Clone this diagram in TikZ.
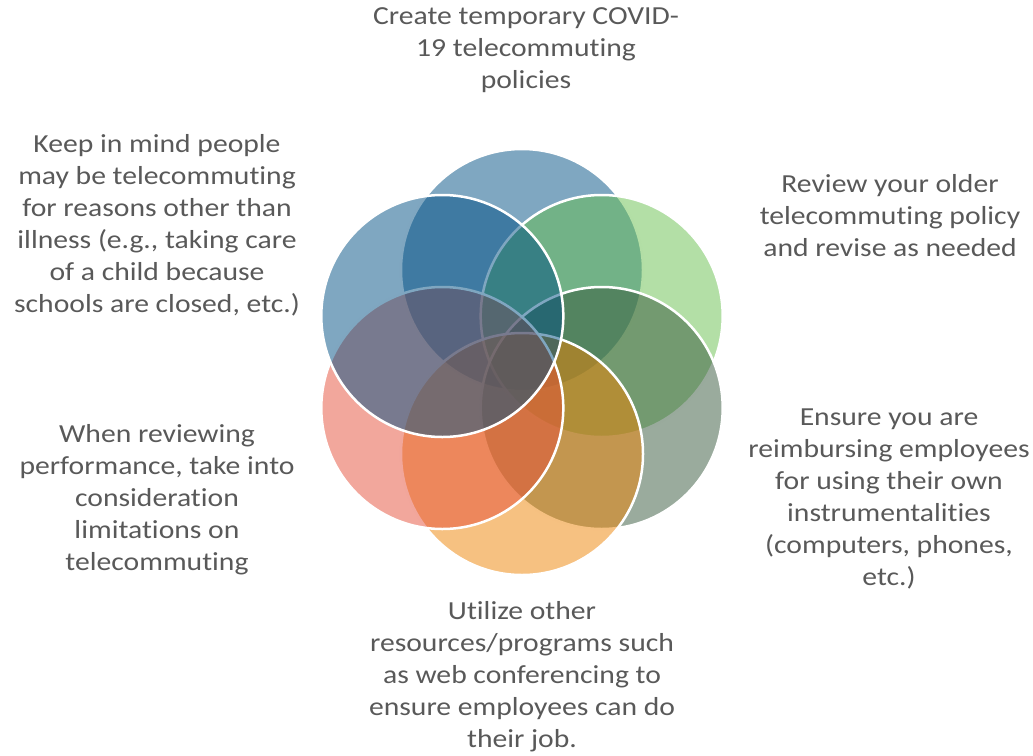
\documentclass[tikz,border=0pt]{standalone}
\usepackage{fontspec}
\setmainfont{Carlito}
\newfontfamily\widefont[FakeStretch=1.14, Ligatures=CommonOff]{Carlito}
\usepackage{xcolor}
\usepackage{tikz}
\usetikzlibrary{positioning}

\definecolor{ringblue}{RGB}{0,79,131}
\definecolor{ringgreen}{RGB}{103,191,77}
\definecolor{ringsage}{RGB}{53,87,59}
\definecolor{ringorange}{RGB}{237,131,3}
\definecolor{ringsalmon}{RGB}{229,79,57}
\definecolor{textgray}{RGB}{89,89,89}

\begin{document}
\begin{tikzpicture}[x=1pt, y=-1pt,
    ring/.style={circle, inner sep=0pt, minimum size=242pt, draw=white, line width=2.5pt, fill opacity=0.5},
    itemtext/.style={text=textgray, align=center, inner sep=0pt, font=\widefont\fontsize{26}{32}\selectfont}]
			\useasboundingbox (0,0) rectangle (1033,755);
			
			% Circles
			\node[ring, fill=ringblue] (policy) at (522,270) {};
			\node[ring, fill=ringgreen] (review) at (601.7,316) {};
			\node[ring, fill=ringsage] (reimburse) at (601.7,408) {};
			\node[ring, fill=ringorange] (tools) at (522,454) {};
			\node[ring, fill=ringsalmon] (limits) at (442.3,408) {};
			\node[ring, fill=ringblue] (reasons) at (442.3,316) {};
			
			% Labels
			\node[itemtext] (policytext) at (526,50) {Create temporary COVID-\\19 telecommuting\\policies};
			\node[itemtext] (reviewtext) at (890,216) {Review your older\\telecommuting policy\\and revise as needed};
			\node[itemtext] (reimbursetext) at (889,499) {Ensure you are\\reimbursing employees\\for using their own\\instrumentalities\\(computers, phones,\\etc.)};
			\node[itemtext] (toolstext) at (522,677) {Utilize other\\resources/programs such\\as web conferencing to\\ensure employees can do\\their job.};
			\node[itemtext] (limitstext) at (157,500) {When reviewing\\performance, take into\\consideration\\limitations on\\telecommuting};
			\node[itemtext] (reasonstext) at (157,225) {Keep in mind people\\may be telecommuting\\for reasons other than\\illness (e.g., taking care\\of a child because\\schools are closed, etc.)};
		\end{tikzpicture}
\end{document}
